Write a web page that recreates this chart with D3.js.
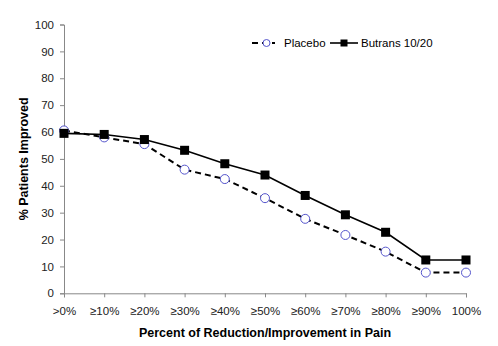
<!DOCTYPE html>
<html>
<head>
<meta charset="utf-8">
<script src="https://cdn.jsdelivr.net/npm/d3@7"></script>
<style>
  body { margin: 0; background: #fff; overflow: hidden; }
  svg { display: block; }
  text { font-family: "Liberation Sans", Arial, sans-serif; }
</style>
</head>
<body>
<svg width="498" height="346"></svg>
<script>
const categories = ['>0%', '≥10%', '≥20%', '≥30%', '≥40%', '≥50%', '≥60%', '≥70%', '≥80%', '≥90%', '100%'];
const placebo = [60.6, 58.0, 55.5, 46.0, 42.5, 35.4, 27.7, 21.7, 15.5, 7.7, 7.7];
const butrans = [59.5, 59.1, 57.2, 53.2, 48.2, 44.0, 36.4, 29.2, 22.7, 12.4, 12.4];
const yTicks = [0, 10, 20, 30, 40, 50, 60, 70, 80, 90, 100];

const svg = d3.select('svg');
const margin = { top: 24.5, right: 32, left: 64, bottom: 52.7 };
const width = +svg.attr('width');
const height = +svg.attr('height');
const innerWidth = width - margin.left - margin.right;
const innerHeight = height - margin.top - margin.bottom;

const xScale = d3.scalePoint()
                 .domain(categories)
                 .range([0, innerWidth])
                 .padding(0);

const yScale = d3.scaleLinear()
                 .domain([0, 100])
                 .range([innerHeight, 0]);

const g = svg.append('g')
             .attr('transform', `translate(${margin.left}, ${margin.top})`);

// axes
const yAxis = d3.axisLeft(yScale).tickValues(yTicks).tickSize(4).tickPadding(6);
const xAxis = d3.axisBottom(xScale).tickSize(4).tickPadding(10);

const yg = g.append('g').call(yAxis);
const xg = g.append('g').attr('transform', `translate(0, ${innerHeight})`).call(xAxis);

[yg, xg].forEach(ax => {
  ax.selectAll('path, line').attr('stroke', '#888').attr('stroke-width', 1);
  ax.selectAll('text').attr('fill', '#222').style('font-size', '11.5px');
});

// lines
const line = d3.line()
               .x((d, i) => xScale(categories[i]))
               .y(d => yScale(d));

g.append('path')
  .datum(placebo)
  .attr('fill', 'none')
  .attr('stroke', '#000')
  .attr('stroke-width', 2)
  .attr('stroke-dasharray', '6,4')
  .attr('d', line);

g.append('path')
  .datum(butrans)
  .attr('fill', 'none')
  .attr('stroke', '#000')
  .attr('stroke-width', 1.6)
  .attr('d', line);

// markers
g.selectAll('circle.placebo').data(placebo)
  .enter().append('circle')
    .attr('class', 'placebo')
    .attr('cx', (d, i) => xScale(categories[i]))
    .attr('cy', d => yScale(d))
    .attr('r', 4.5)
    .attr('fill', '#fff')
    .attr('stroke', '#5555cc')
    .attr('stroke-width', 1);

const sq = 9;
g.selectAll('rect.butrans').data(butrans)
  .enter().append('rect')
    .attr('class', 'butrans')
    .attr('x', (d, i) => xScale(categories[i]) - sq / 2)
    .attr('y', d => yScale(d) - sq / 2)
    .attr('width', sq)
    .attr('height', sq)
    .attr('fill', '#000');

// axis titles
svg.append('text')
   .attr('x', margin.left + innerWidth / 2)
   .attr('y', 337)
   .attr('text-anchor', 'middle')
   .style('font-size', '12.5px')
   .style('font-weight', 'bold')
   .text('Percent of Reduction/Improvement in Pain');

svg.append('text')
   .attr('transform', `translate(28, ${margin.top + innerHeight / 2}) rotate(-90)`)
   .attr('text-anchor', 'middle')
   .style('font-size', '12.5px')
   .style('font-weight', 'bold')
   .text('% Patients Improved');

// legend
const legend = svg.append('g').attr('transform', 'translate(0, 43)');
legend.append('line')
  .attr('x1', 252).attr('x2', 275).attr('y1', 0).attr('y2', 0)
  .attr('stroke', '#000').attr('stroke-width', 2).attr('stroke-dasharray', '6,4');
legend.append('circle')
  .attr('cx', 266.5).attr('cy', 0).attr('r', 3.5)
  .attr('fill', '#fff').attr('stroke', '#5555cc');
legend.append('text')
  .attr('x', 284).attr('y', 4)
  .style('font-size', '11.5px')
  .text('Placebo');

legend.append('line')
  .attr('x1', 330).attr('x2', 358).attr('y1', 0).attr('y2', 0)
  .attr('stroke', '#000').attr('stroke-width', 1.6);
legend.append('rect')
  .attr('x', 340.5).attr('y', -3.5).attr('width', 7).attr('height', 7)
  .attr('fill', '#000');
legend.append('text')
  .attr('x', 361).attr('y', 4)
  .style('font-size', '11.5px')
  .text('Butrans 10/20');
</script>
</body>
</html>
